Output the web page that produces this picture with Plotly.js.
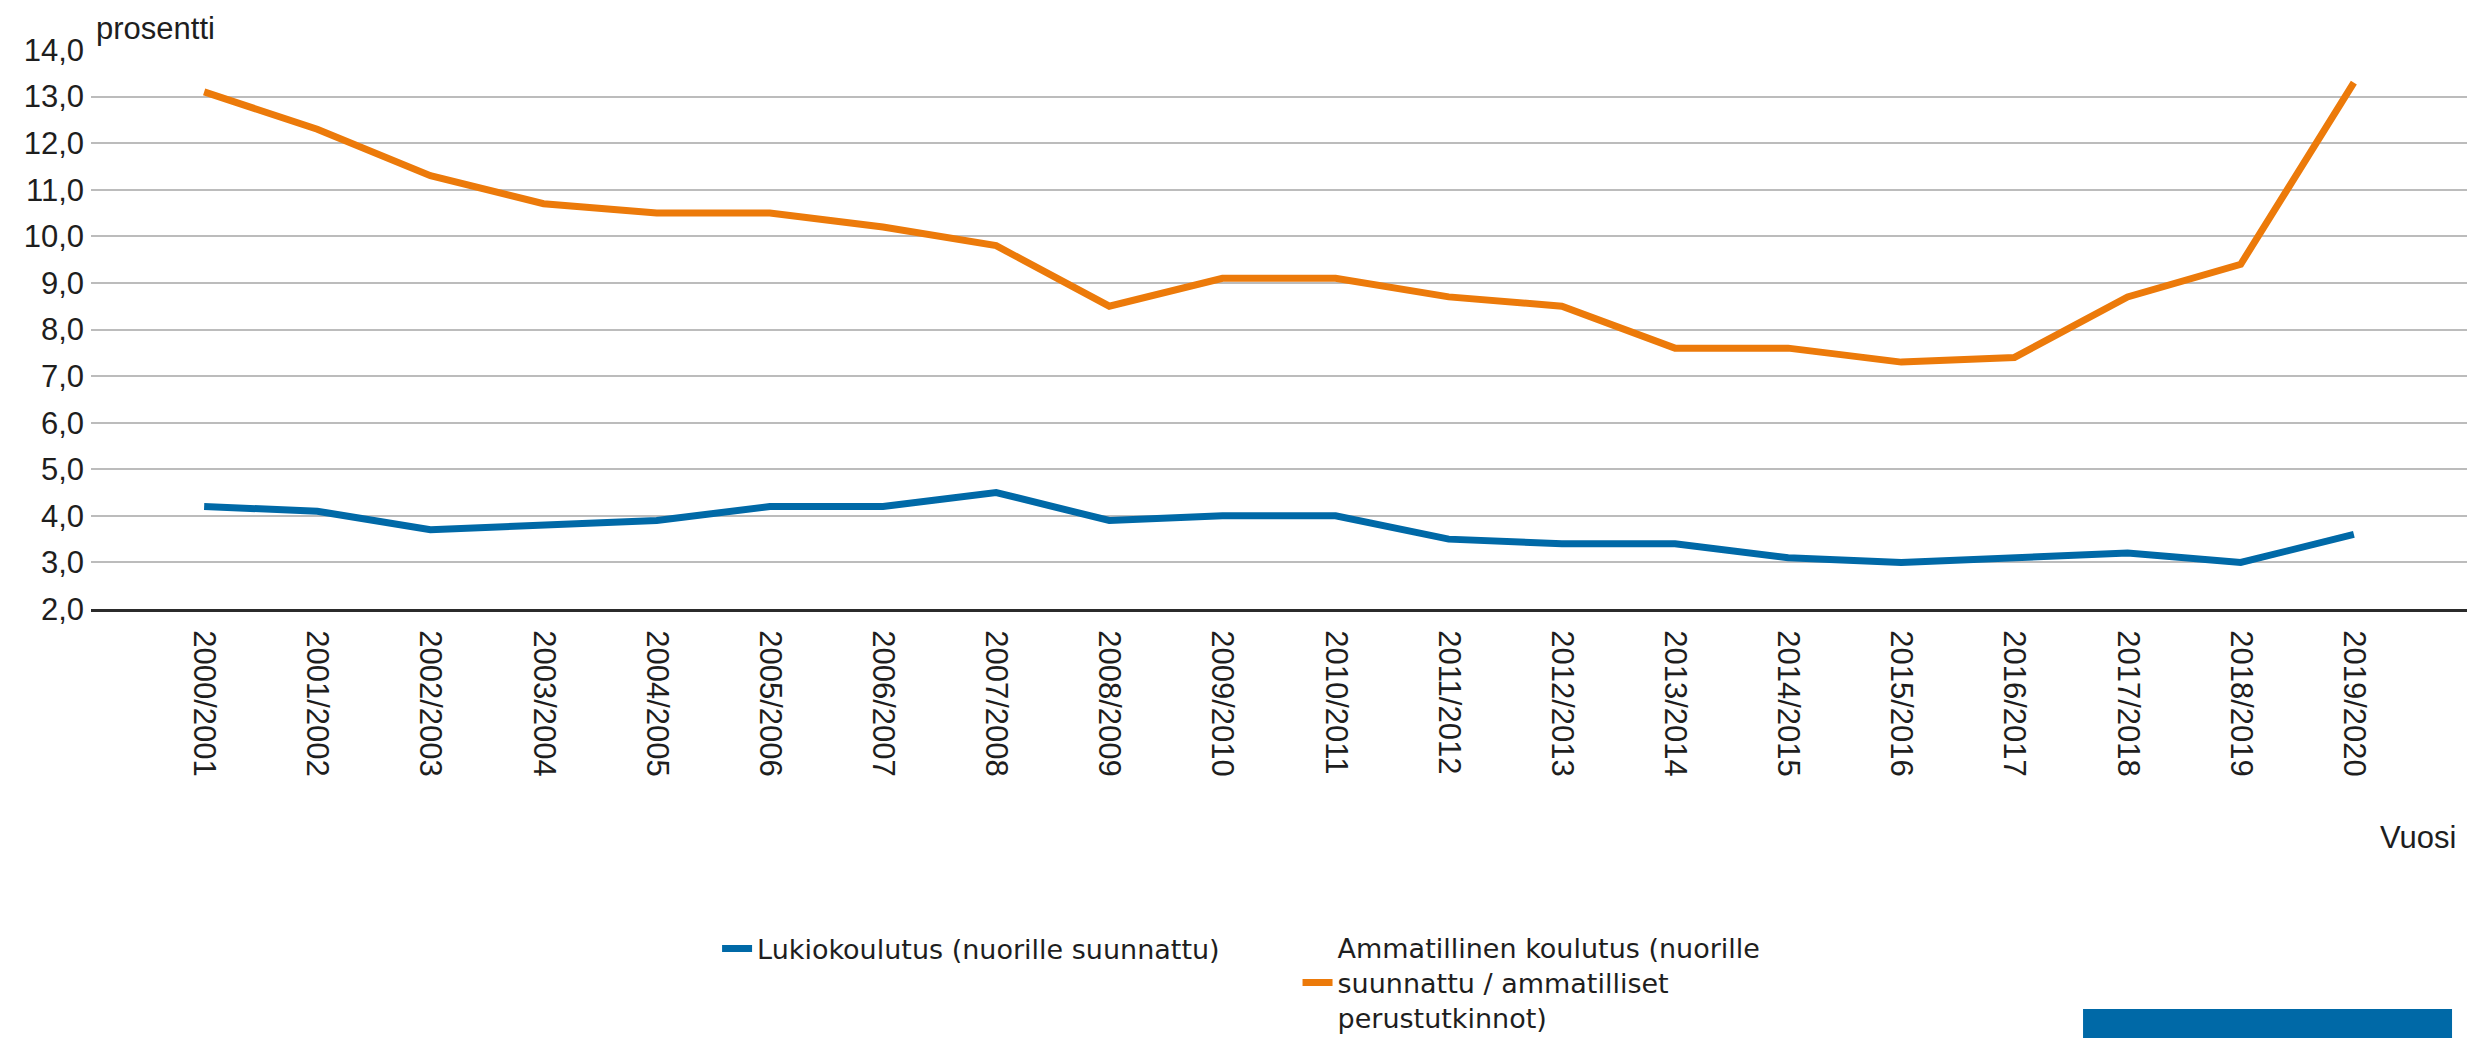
<!DOCTYPE html>
<html>
<head>
<meta charset="utf-8">
<script src="https://cdn.plot.ly/plotly-3.0.1.min.js"></script>
<style>html,body{margin:0;padding:0;background:#fff;}#chart{width:2471px;height:1038px;}</style>
</head>
<body>
<div id="chart"></div>
<script>
const years = ["2000/2001","2001/2002","2002/2003","2003/2004","2004/2005","2005/2006","2006/2007","2007/2008","2008/2009","2009/2010","2010/2011","2011/2012","2012/2013","2013/2014","2014/2015","2015/2016","2016/2017","2017/2018","2018/2019","2019/2020"];
const lukio = [4.2,4.1,3.7,3.8,3.9,4.2,4.2,4.5,3.9,4.0,4.0,3.5,3.4,3.4,3.1,3.0,3.1,3.2,3.0,3.6];
const ammatillinen = [13.1,12.3,11.3,10.7,10.5,10.5,10.2,9.8,8.5,9.1,9.1,8.7,8.5,7.6,7.6,7.3,7.4,8.7,9.4,13.3];
const seriesNames = ["Lukiokoulutus (nuorille suunnattu)", "Ammatillinen koulutus (nuorille<br>suunnattu / ammatilliset<br>perustutkinnot)"];
const yTitle = "prosentti";
const xTitle = "Vuosi";

const BLUE = "#0069a7", ORANGE = "#ec7a0a";
const axisFont = {family: "Liberation Sans, Arial, sans-serif", size: 31, color: "#1e1e1e"};
const legendFont = {family: "DejaVu Sans, sans-serif", size: 27, color: "#1e1e1e"};

const traces = [
  {x: years, y: lukio, name: seriesNames[0], type: "scatter", mode: "lines",
   line: {color: BLUE, width: 7}, legend: "legend"},
  {x: years, y: ammatillinen, name: seriesNames[1], type: "scatter", mode: "lines",
   line: {color: ORANGE, width: 7}, legend: "legend2"}
];

const layout = {
  width: 2471, height: 1038,
  margin: {l: 91, r: 4, t: 50, b: 429, autoexpand: false},
  paper_bgcolor: "#ffffff", plot_bgcolor: "#ffffff",
  separators: ", ",
  showlegend: true,
  xaxis: {
    type: "category", range: [-1, 20], dtick: 1,
    tickangle: 90, tickfont: axisFont, ticks: "", ticklabelstandoff: 12,
    showgrid: false, zeroline: false,
    showline: true, linecolor: "#2b2b2b", linewidth: 3
  },
  yaxis: {
    range: [2, 14], dtick: 1, tickformat: ".1f",
    tickfont: axisFont, ticks: "", ticklabelstandoff: 6,
    showgrid: true, gridcolor: "#bcbcbc", gridwidth: 2,
    zeroline: false, showline: false
  },
  legend: {
    x: 0.2635, xanchor: "left", y: -0.608, yanchor: "middle",
    font: legendFont, bgcolor: "rgba(0,0,0,0)", borderwidth: 0
  },
  legend2: {
    x: 0.5078, xanchor: "left", y: -0.669, yanchor: "middle",
    font: legendFont, bgcolor: "rgba(0,0,0,0)", borderwidth: 0
  },
  annotations: [
    {text: yTitle, xref: "paper", yref: "paper", x: 0, y: 1.039, xanchor: "left", yanchor: "middle",
     xshift: 3, showarrow: false, font: axisFont},
    {text: xTitle, xref: "paper", yref: "paper", x: 0.9962, y: -0.408, xanchor: "right", yanchor: "middle",
     showarrow: false, font: axisFont}
  ],
  shapes: [
    {type: "rect", xref: "paper", yref: "paper", x0: 0.8384, x1: 0.9937, y0: -0.7675, y1: -0.7156,
     fillcolor: BLUE, line: {width: 0}, layer: "above"}
  ]
};

Plotly.newPlot("chart", traces, layout, {displayModeBar: false, staticPlot: true});
</script>
</body>
</html>
